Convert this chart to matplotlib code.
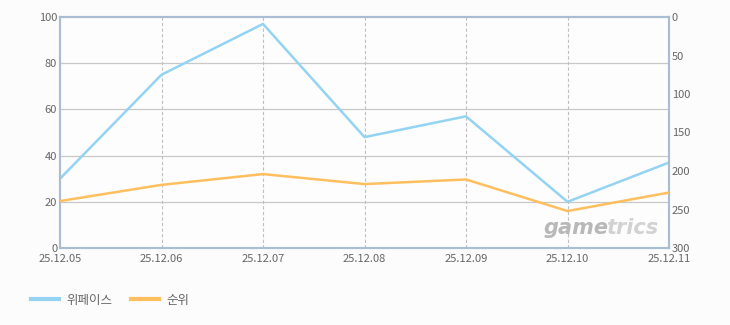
import matplotlib
matplotlib.use("Agg")
import matplotlib.pyplot as plt
from matplotlib.lines import Line2D

plt.rcParams['font.family'] = ['Noto Sans CJK KR', 'DejaVu Sans']

dates = ["25.12.05", "25.12.06", "25.12.07", "25.12.08", "25.12.09", "25.12.10", "25.12.11"]
wepace = [30, 75, 97, 48, 57, 20, 37]          # 왼쪽 축
rank = [239, 218, 204, 217, 211, 252, 228]     # 오른쪽 축 (역순)

blue = '#94d3f2'
orange = '#ffbf5e'
frame = '#a9bdd3'
txt = '#666666'

fig = plt.figure(figsize=(7.3, 3.25), dpi=100)
fig.patch.set_facecolor('#fcfcfc')
ax = fig.add_axes([60 / 730, 1 - 248 / 325, 609 / 730, 231 / 325])
ax.set_facecolor('#fdfdfd')

x = list(range(len(dates)))
ax.plot(x, wepace, color=blue, lw=1.8, zorder=3)
ax.set_xlim(0, len(dates) - 1)
ax.set_ylim(0, 100)
ax.set_yticks([0, 20, 40, 60, 80, 100])
ax.set_xticks(x)
ax.set_xticklabels(dates)

for v in [20, 40, 60, 80]:
    ax.axhline(v, color='#c8c8c8', lw=0.9, zorder=1)
for xi in x[1:-1]:
    ax.axvline(xi, color='#c0c0c0', lw=0.8, ls=(0, (3, 2)), zorder=1)

ax2 = ax.twinx()
ax2.plot(x, rank, color=orange, lw=1.8, zorder=3)
ax2.set_ylim(300, 0)
ax2.set_yticks([0, 50, 100, 150, 200, 250, 300])

for a in (ax, ax2):
    for s in a.spines.values():
        s.set_color(frame)
        s.set_linewidth(1.5)
    a.tick_params(length=0, labelsize=8, colors=txt, pad=2)
ax.tick_params(axis='x', pad=4)

# 워터마크 (game + trics 두 가지 회색)
wm = dict(transform=ax.transAxes, va='bottom', fontsize=15, fontweight='bold',
          style='italic', family=['DejaVu Sans'], zorder=2)
t2 = ax.text(0.982, 0.045, "trics", ha='left', color='#d2d2d2', **wm)
t1 = ax.text(0.982, 0.045, "game", ha='right', color='#b8b8b8', **wm)
fig.canvas.draw()
w2 = t2.get_window_extent().transformed(ax.transAxes.inverted()).width
t2.set_position((0.982 - w2, 0.045))
t1.set_position((0.982 - w2 + 0.004, 0.045))

handles = [Line2D([], [], color=blue, lw=3), Line2D([], [], color=orange, lw=3)]
fig.legend(handles, ["위페이스", "순위"], loc='lower left', bbox_to_anchor=(20 / 730, 7 / 325),
           ncol=2, frameon=False, fontsize=9, labelcolor=txt, handlelength=2.2,
           columnspacing=1.5, handletextpad=0.6)

fig.savefig("out.png", dpi=100, facecolor=fig.get_facecolor())
